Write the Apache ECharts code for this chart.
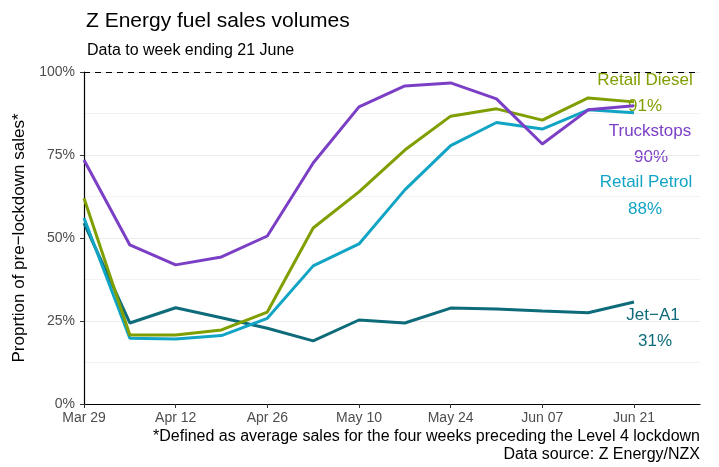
<!doctype html>
<html>
<head>
<meta charset="UTF-8">
<script src="https://cdn.jsdelivr.net/npm/echarts@6/dist/echarts.min.js"></script>
</head>
<body style="margin:0;background:#fff;">
<div id="chart" style="width:719px;height:467px;"></div>
<script>
// weekly points, Mar 29 .. Jun 21
var weeks = ['Mar 29', 'Apr 05', 'Apr 12', 'Apr 19', 'Apr 26', 'May 03', 'May 10',
             'May 17', 'May 24', 'May 31', 'Jun 07', 'Jun 14', 'Jun 21'];
var tickWeeks = [0, 2, 4, 6, 8, 10, 12];

var truckstops   = [73.5, 47.9, 41.9, 44.3, 50.6, 72.6, 89.5, 95.8, 96.7, 91.9, 78.3, 88.6, 89.8];
var retailDiesel = [62.0, 20.8, 20.8, 22.3, 27.7, 53.0, 63.9, 76.5, 86.7, 88.9, 85.5, 92.2, 91.0];
var retailPetrol = [56.0, 19.8, 19.6, 20.6, 25.8, 41.6, 48.2, 64.5, 77.8, 84.8, 82.8, 88.6, 87.7];
var jetA1        = [54.5, 24.4, 29.0, 26.0, 22.8, 19.0, 25.3, 24.4, 28.9, 28.6, 28.0, 27.5, 30.7];

var colTruck = '#7b3fc6', colDiesel = '#7f9e00', colPetrol = '#12a4c4', colJet = '#0d6b7a';

function pts(arr) {
    return arr.map(function (v, i) { return [i, v]; });
}

var chart = echarts.init(document.getElementById('chart'));

var font = 'Liberation Sans, Arial, sans-serif';

function lbl(x, y, text, color) {
    return { type: 'text', x: x, y: y,
             style: { text: text, fill: color, font: '17px ' + font, align: 'center', verticalAlign: 'middle' } };
}

var option = {
    animation: false,
    backgroundColor: '#fff',
    textStyle: { fontFamily: font },
    grid: { left: 84, right: 19, top: 72, bottom: 63 },
    xAxis: {
        type: 'value',
        min: 0,
        max: 13.44,
        axisLine: { show: true, lineStyle: { color: '#000', width: 1.2 } },
        axisTick: { show: true, length: 4, lineStyle: { color: '#333' }, customValues: tickWeeks },
        axisLabel: {
            color: '#4d4d4d', fontSize: 14, fontFamily: font, margin: 7,
            customValues: tickWeeks,
            formatter: function (v) { return weeks[Math.round(v)]; }
        },
        splitLine: { show: false }
    },
    yAxis: {
        type: 'value',
        min: 0,
        max: 100,
        interval: 25,
        name: 'Proprtion of pre\u2212lockdown sales*',
        nameLocation: 'middle',
        nameGap: 55,
        nameTextStyle: { color: '#000', fontSize: 17, fontFamily: font },
        axisLine: { show: true, lineStyle: { color: '#000', width: 1.2 } },
        axisTick: { show: true, length: 4, lineStyle: { color: '#333' } },
        axisLabel: {
            color: '#4d4d4d', fontSize: 14, fontFamily: font, margin: 9,
            formatter: function (v) { return v + '%'; }
        },
        splitLine: { show: true, lineStyle: { color: '#ebebeb', width: 1 } },
        minorTick: { show: false, splitNumber: 2 },
        minorSplitLine: { show: true, lineStyle: { color: '#f2f2f2', width: 1 } }
    },
    title: [
        { text: 'Z Energy fuel sales volumes', left: 81, top: 6,
          textStyle: { fontSize: 21, fontWeight: 'normal', color: '#000', fontFamily: font } },
        { text: 'Data to week ending 21 June', left: 82, top: 38,
          textStyle: { fontSize: 16, fontWeight: 'normal', color: '#000', fontFamily: font } }
    ],
    graphic: [
        { type: 'text', right: 19, top: 429,
          style: { text: '*Defined as average sales for the four weeks preceding the Level 4 lockdown',
                   fill: '#000', font: '16px ' + font } },
        { type: 'text', right: 19, top: 447,
          style: { text: 'Data source: Z Energy/NZX', fill: '#000', font: '16px ' + font } },
        lbl(645, 80, 'Retail Diesel', colDiesel),
        lbl(645, 106, '91%', colDiesel),
        lbl(650, 131, 'Truckstops', colTruck),
        lbl(651, 157, '90%', colTruck),
        lbl(646, 182, 'Retail Petrol', colPetrol),
        lbl(645, 209, '88%', colPetrol),
        lbl(653, 315, 'Jet\u2212A1', colJet),
        lbl(655, 341, '31%', colJet)
    ],
    series: [
        {
            name: 'Jet-A1', type: 'line', data: pts(jetA1), showSymbol: false,
            lineStyle: { color: colJet, width: 3 }, itemStyle: { color: colJet },
            markLine: {
                silent: true, symbol: 'none', label: { show: false },
                lineStyle: { color: '#000', type: [6, 5], width: 1.2 },
                data: [{ yAxis: 100 }]
            }
        },
        { name: 'Retail Petrol', type: 'line', data: pts(retailPetrol), showSymbol: false,
          lineStyle: { color: colPetrol, width: 3 }, itemStyle: { color: colPetrol } },
        { name: 'Retail Diesel', type: 'line', data: pts(retailDiesel), showSymbol: false,
          lineStyle: { color: colDiesel, width: 3 }, itemStyle: { color: colDiesel } },
        { name: 'Truckstops', type: 'line', data: pts(truckstops), showSymbol: false,
          lineStyle: { color: colTruck, width: 3 }, itemStyle: { color: colTruck } }
    ]
};
chart.setOption(option);
</script>
</body>
</html>
